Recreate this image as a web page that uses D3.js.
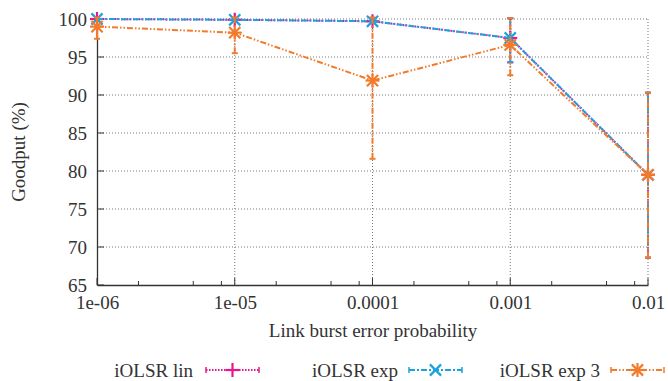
<!DOCTYPE html>
<html><head><meta charset="utf-8">
<script src="https://cdn.jsdelivr.net/npm/d3@7"></script>
<style>body{margin:0;background:#fff}</style>
</head><body><svg id="c" width="668" height="381"></svg>
<script>
const xValues = [1e-6, 1e-5, 1e-4, 1e-3, 1e-2];
const xTickLabels = ["1e-06", "1e-05", "0.0001", "0.001", "0.01"];
const yTicks = [65, 70, 75, 80, 85, 90, 95, 100];
const seriesNames = ["iOLSR lin", "iOLSR exp", "iOLSR exp 3"];
const linMean = [100, 99.9, 99.7, 97.5, 79.5];
const linLow  = [100, 99.9, 99.7, 94.3, 68.6];
const linHigh = [100, 99.9, 99.7, 100.1, 90.3];
const expMean = [100, 99.9, 99.7, 97.5, 79.5];
const expLow  = [100, 99.9, 99.7, 94.3, 68.6];
const expHigh = [100, 99.9, 99.7, 100.1, 90.3];
const exp3Mean = [99.0, 98.2, 91.9, 96.6, 79.5];
const exp3Low  = [97.4, 95.5, 81.6, 92.6, 68.6];
const exp3High = [100.2, 100.2, 100.2, 100.1, 90.3];

const FONT = '"Liberation Serif"';
const FS = "19px";
const svg = d3.select("#c");
const x = d3.scaleLog().domain([1e-6, 1e-2]).range([97, 648]);
const y = d3.scaleLinear().domain([65, 100]).range([285, 19]);

// grid
const g = svg.append("g");
g.selectAll(".hg").data(yTicks.slice(1)).enter().append("line")
  .attr("x1", 97).attr("x2", 648).attr("y1", d => y(d)).attr("y2", d => y(d))
  .attr("stroke", "#555").attr("stroke-width", 0.8).attr("stroke-dasharray", "1,2");
g.selectAll(".vg").data(xValues.slice(1)).enter().append("line")
  .attr("x1", d => x(d)).attr("x2", d => x(d)).attr("y1", 19).attr("y2", 285)
  .attr("stroke", "#555").attr("stroke-width", 0.8).attr("stroke-dasharray", "1,2");

// axes
const xAxis = d3.axisBottom(x).tickValues(xValues).tickFormat((d, i) => xTickLabels[i]).tickSize(0).tickPadding(11);
const gx = svg.append("g").attr("transform", "translate(0,285)").call(xAxis);
gx.select(".domain").attr("stroke", "#333").attr("stroke-width", 1.3);
gx.selectAll("text").style("font-family", FONT).style("font-size", FS).attr("fill", "#333");
// minor ticks
const minor = [];
for (let e = -6; e < -2; e++) for (const m of [2, 5, 8]) minor.push(m * Math.pow(10, e));
svg.append("g").selectAll("line").data(minor).enter().append("line")
  .attr("x1", d => x(d)).attr("x2", d => x(d)).attr("y1", 285).attr("y2", 281)
  .attr("stroke", "#333").attr("stroke-width", 1);
svg.append("g").selectAll("line").data(xValues).enter().append("line")
  .attr("x1", d => x(d)).attr("x2", d => x(d)).attr("y1", 285).attr("y2", 278)
  .attr("stroke", "#333").attr("stroke-width", 1);

const yAxis = d3.axisLeft(y).tickValues(yTicks).tickSize(0).tickPadding(10);
const gy = svg.append("g").attr("transform", "translate(97,0)").call(yAxis);
gy.select(".domain").attr("stroke", "#333").attr("stroke-width", 1.3);
gy.selectAll("text").style("font-family", FONT).style("font-size", FS).attr("fill", "#333");
svg.append("g").selectAll("line").data(yTicks).enter().append("line")
  .attr("x1", 97).attr("x2", 104).attr("y1", d => y(d)).attr("y2", d => y(d))
  .attr("stroke", "#333").attr("stroke-width", 1);

// labels
svg.append("text").attr("x", 373).attr("y", 337).attr("text-anchor", "middle")
  .style("font-family", FONT).style("font-size", FS).attr("fill", "#333").text("Link burst error probability");
svg.append("text").attr("transform", "translate(25,152) rotate(-90)").attr("text-anchor", "middle")
  .style("font-family", FONT).style("font-size", FS).attr("fill", "#333").text("Goodput (%)");

const series = [
  {name: seriesNames[0], mean: linMean, low: linLow, high: linHigh, color: "#e8168c", dash: "1.5,1.5", marker: "plus"},
  {name: seriesNames[1], mean: expMean, low: expLow, high: expHigh, color: "#1aa3e0", dash: "6,2,2,2", marker: "x"},
  {name: seriesNames[2], mean: exp3Mean, low: exp3Low, high: exp3High, color: "#f27a2a", dash: "6,2,1.5,2,1.5,2", marker: "star"}
];

function marker(sel, type, color, s) {
  const lines = [];
  if (type === "plus" || type === "star") { lines.push([-s,0,s,0],[0,-s,0,s]); }
  if (type === "x" || type === "star") { lines.push([-s*0.8,-s*0.8,s*0.8,s*0.8],[-s*0.8,s*0.8,s*0.8,-s*0.8]); }
  lines.forEach(l => sel.append("line").attr("x1", l[0]).attr("y1", l[1]).attr("x2", l[2]).attr("y2", l[3])
    .attr("stroke", color).attr("stroke-width", 2.2));
}

const line = d3.line().x(d => x(d[0])).y(d => y(d[1]));
series.forEach(s => {
  const gs = svg.append("g");
  xValues.forEach((xv, i) => {
    if (s.high[i] - s.low[i] < 0.3) return;
    gs.append("line").attr("x1", x(xv)).attr("x2", x(xv)).attr("y1", y(s.low[i])).attr("y2", y(s.high[i]))
      .attr("stroke", s.color).attr("stroke-width", 2).attr("stroke-dasharray", s.dash);
    [s.low[i], s.high[i]].forEach(v => gs.append("line").attr("x1", x(xv) - 3).attr("x2", x(xv) + 3)
      .attr("y1", y(v)).attr("y2", y(v)).attr("stroke", s.color).attr("stroke-width", 2));
  });
  gs.append("path").datum(xValues.map((xv, i) => [xv, s.mean[i]])).attr("d", line)
    .attr("fill", "none").attr("stroke", s.color).attr("stroke-width", 2).attr("stroke-dasharray", s.dash);
  xValues.forEach((xv, i) => marker(gs.append("g").attr("transform", `translate(${x(xv)},${y(s.mean[i])})`), s.marker, s.color, 7));
});

// legend
const legX = [[193, 206], [398, 409], [600, 611]];
series.forEach((s, i) => {
  const yy = 370;
  svg.append("text").attr("x", legX[i][0]).attr("y", yy + 7).attr("text-anchor", "end")
    .style("font-family", FONT).style("font-size", FS).attr("fill", "#333").text(s.name);
  const x0 = legX[i][1], x1 = x0 + 53;
  svg.append("line").attr("x1", x0).attr("x2", x1).attr("y1", yy).attr("y2", yy)
    .attr("stroke", s.color).attr("stroke-width", 2).attr("stroke-dasharray", s.dash);
  [x0, x1].forEach(xx => svg.append("line").attr("x1", xx).attr("x2", xx).attr("y1", yy - 3).attr("y2", yy + 3)
    .attr("stroke", s.color).attr("stroke-width", 1.5));
  marker(svg.append("g").attr("transform", `translate(${(x0 + x1) / 2},${yy})`), s.marker, s.color, 7);
});
</script></body></html>
